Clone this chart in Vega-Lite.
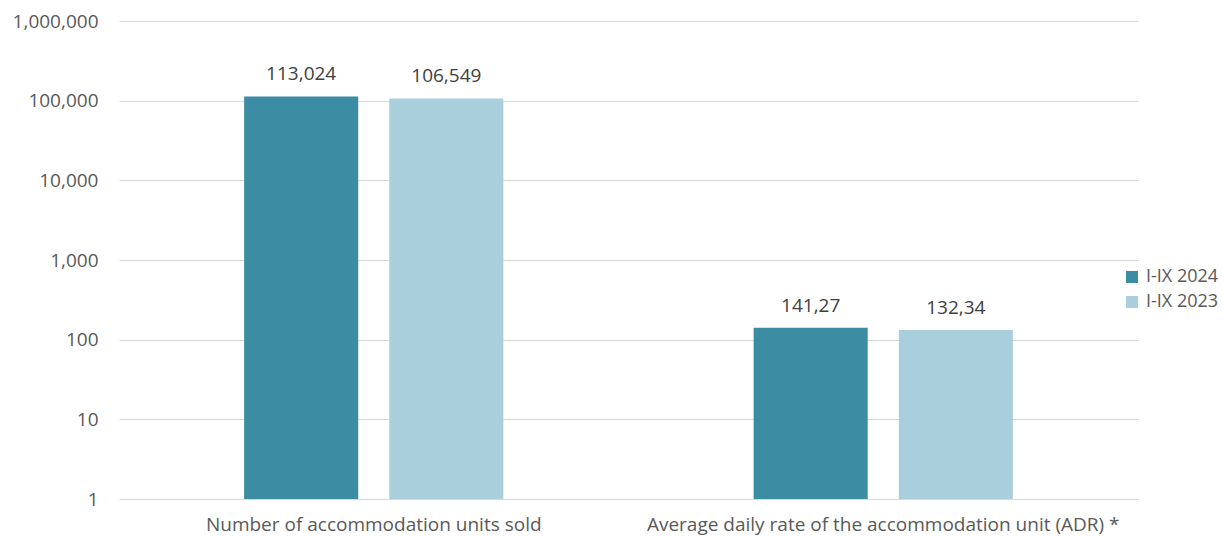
{
  "$schema": "https://vega.github.io/schema/vega-lite/v6.json",
  "width": 1019,
  "height": 478,
  "autosize": {"type": "none"},
  "padding": {"left": 119, "top": 21, "right": 84, "bottom": 37},
  "background": "white",
  "config": {
    "font": "Open Sans",
    "view": {"stroke": null},
    "axis": {"labelColor": "#595959", "labelFont": "Open Sans"},
    "legend": {"labelFont": "Open Sans"}
  },
  "data": {
    "values": [
      {"category": "Number of accommodation units sold", "period": "I-IX 2024", "value": 113024, "label": "113,024"},
      {"category": "Number of accommodation units sold", "period": "I-IX 2023", "value": 106549, "label": "106,549"},
      {"category": "Average daily rate of the accommodation unit (ADR) *", "period": "I-IX 2024", "value": 141.27, "label": "141,27"},
      {"category": "Average daily rate of the accommodation unit (ADR) *", "period": "I-IX 2023", "value": 132.34, "label": "132,34"}
    ]
  },
  "encoding": {
    "x": {
      "field": "category",
      "type": "nominal",
      "sort": null,
      "scale": {"paddingInner": 0, "paddingOuter": 0},
      "axis": {
        "title": null,
        "labelAngle": 0,
        "labelFontSize": 19,
        "labelPadding": 16,
        "ticks": false,
        "domain": false,
        "grid": false,
        "labelLimit": 600
      }
    },
    "xOffset": {
      "field": "period",
      "type": "nominal",
      "scale": {"domain": ["I-IX 2024", "I-IX 2023"], "paddingInner": 0.214, "paddingOuter": 0.862}
    },
    "y": {
      "field": "value",
      "type": "quantitative",
      "scale": {"type": "log", "domain": [1, 1000000], "nice": false},
      "axis": {
        "title": null,
        "values": [1, 10, 100, 1000, 10000, 100000, 1000000],
        "format": ",",
        "labelFontSize": 19,
        "labelPadding": 21,
        "ticks": false,
        "domain": false,
        "grid": true,
        "gridColor": "#d9d9d9",
        "gridWidth": 1
      }
    }
  },
  "layer": [
    {
      "mark": {"type": "bar"},
      "encoding": {
        "y2": {"datum": 1},
        "color": {
          "field": "period",
          "type": "nominal",
          "scale": {"domain": ["I-IX 2024", "I-IX 2023"], "range": ["#3C8CA3", "#A9CFDD"]},
          "legend": {
            "title": null,
            "orient": "none",
            "legendX": 1004,
            "legendY": 247,
            "symbolType": "square",
            "symbolSize": 144,
            "symbolStrokeWidth": 0,
            "labelFontSize": 18,
            "labelColor": "#595959",
            "rowPadding": 7,
            "labelOffset": 5
          }
        }
      }
    },
    {
      "mark": {"type": "text", "baseline": "bottom", "dy": -12, "fontSize": 19, "color": "#404040"},
      "encoding": {
        "text": {"field": "label"}
      }
    }
  ]
}
